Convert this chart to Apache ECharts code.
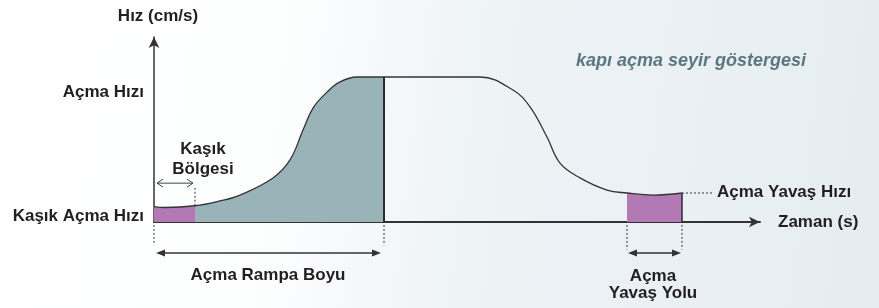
<!DOCTYPE html>
<html>
<head>
<meta charset="utf-8">
<script src="https://cdn.jsdelivr.net/npm/echarts@6/dist/echarts.min.js"></script>
</head>
<body style="margin:0">
<div id="main" style="width:879px;height:308px"></div>
<script>
// hız eğrisi: x = zaman (birim), y = hız (cm/s)
var curveX = [0, 1.1, 4.1, 6.5, 8.6, 11.9, 13.6, 14.9, 15.9, 17.3, 18.6, 20.3, 23, 32.6, 35.9, 37.6, 39.3, 40.6, 42.6, 45.3, 47.3, 49.9, 52.8];
var curveY = [5.3, 5.0, 5.6, 7.2, 9.3, 15.2, 21.4, 31.7, 39.3, 44.8, 48.3, 50, 50, 50, 45.5, 39.7, 29.3, 20.3, 15.2, 11.0, 10.0, 9.3, 10.0];

// bölge sınırları
var kasikEnd = 4.1;
var rampEnd = 23;
var slowStart = 47.3;
var slowEnd = 52.8;

// y ekseni yazıları
var yLabelValues = [2.1, 44.8];
var yLabelNames = ['Kaşık Açma Hızı', 'Açma Hızı'];

var textFont = 'Liberation Sans, Arial, sans-serif';
var textColor = '#231f20';

function pick(a, b) {
    var out = [];
    for (var i = 0; i < curveX.length; i++) {
        if (curveX[i] >= a && curveX[i] <= b) out.push([curveX[i], curveY[i]]);
    }
    return out;
}

function yAt(x) {
    return curveY[curveX.indexOf(x)];
}

var fullCurve = pick(0, slowEnd);

function renderNotes(params, api) {
    var kids = [];
    var dot = { stroke: '#333', lineWidth: 1, lineDash: [2, 2] };
    function seg(x1, y1, x2, y2, style) {
        var a = api.coord([x1, y1]), b = api.coord([x2, y2]);
        kids.push({ type: 'line', shape: { x1: a[0], y1: a[1], x2: b[0], y2: b[1] }, style: style });
    }
    // filled double arrow
    function dArrow(x1, x2, y) {
        var a = api.coord([x1, y]), b = api.coord([x2, y]);
        kids.push({ type: 'line', shape: { x1: a[0] + 4, y1: a[1], x2: b[0] - 4, y2: b[1] }, style: { stroke: '#333', lineWidth: 1.5 } });
        kids.push({ type: 'polygon', shape: { points: [[a[0], a[1]], [a[0] + 9, a[1] - 3.5], [a[0] + 9, a[1] + 3.5]] }, style: { fill: '#333' } });
        kids.push({ type: 'polygon', shape: { points: [[b[0], b[1]], [b[0] - 9, b[1] - 3.5], [b[0] - 9, b[1] + 3.5]] }, style: { fill: '#333' } });
    }
    // hollow double arrow
    function hArrow(x1, x2, y) {
        var a = api.coord([x1, y]), b = api.coord([x2, y]);
        var st = { stroke: '#444', lineWidth: 1, fill: null };
        kids.push({ type: 'line', shape: { x1: a[0], y1: a[1], x2: b[0], y2: b[1] }, style: st });
        kids.push({ type: 'polyline', shape: { points: [[a[0] + 6, a[1] - 4], [a[0], a[1]], [a[0] + 6, a[1] + 4]] }, style: st });
        kids.push({ type: 'polyline', shape: { points: [[b[0] - 6, b[1] - 4], [b[0], b[1]], [b[0] - 6, b[1] + 4]] }, style: st });
    }
    function txt(x, y, s, align, lh) {
        var p = api.coord([x, y]);
        kids.push({
            type: 'text', x: p[0], y: p[1],
            style: { text: s, fill: textColor, fontFamily: textFont, fontWeight: 'bold', fontSize: 17, align: align || 'center', verticalAlign: 'middle', lineHeight: lh || 20 }
        });
    }

    // bölge dikey çizgileri
    seg(rampEnd, 0, rampEnd, yAt(rampEnd), { stroke: '#2b2b2b', lineWidth: 2 });
    seg(slowEnd, 0, slowEnd, yAt(slowEnd), { stroke: '#2b2b2b', lineWidth: 1.5 });

    // noktalı kılavuzlar
    seg(kasikEnd, yAt(kasikEnd), kasikEnd, 12.4, dot);
    seg(0, -1, 0, -8, dot);
    seg(rampEnd, -1, rampEnd, -8, dot);
    seg(slowStart, -1, slowStart, -9.5, dot);
    seg(slowEnd, -1, slowEnd, -9.5, dot);
    seg(slowEnd, yAt(slowEnd), 55.8, yAt(slowEnd), dot);

    // oklar
    hArrow(0.3, 3.9, 13.4);
    dArrow(0.2, 22.7, -10.7);
    dArrow(47.4, 52.7, -10.7);

    // yazılar
    txt(4.9, 21.7, 'Kaşık\nBölgesi', 'center', 20);
    txt(11.4, -18.3, 'Açma Rampa Boyu', 'center');
    txt(56.3, 10.3, 'Açma Yavaş Hızı', 'left');
    txt(49.9, -21.7, 'Açma\nYavaş Yolu', 'center', 17);

    return { type: 'group', children: kids };
}

var myChart = echarts.init(document.getElementById('main'));
var option = {
    animation: false,
    backgroundColor: new echarts.graphic.LinearGradient(0, 0, 1, 0.35, [
        { offset: 0, color: '#ffffff' },
        { offset: 0.32, color: '#fdfefe' },
        { offset: 0.55, color: '#eef3f6' },
        { offset: 1, color: '#e6edf1' }
    ]),
    title: {
        text: 'kapı açma seyir göstergesi',
        left: 571,
        top: 47,
        textStyle: { color: '#5b7780', fontStyle: 'italic', fontWeight: 'bold', fontSize: 18, fontFamily: textFont }
    },
    grid: { left: 154, right: 119, top: 37, bottom: 86 },
    xAxis: {
        type: 'value',
        min: 0,
        max: 60.6,
        name: 'Zaman (s)',
        nameGap: 18,
        nameTextStyle: { color: textColor, fontWeight: 'bold', fontSize: 17, fontFamily: textFont },
        axisLine: { lineStyle: { color: '#333', width: 2 }, symbol: ['none', 'arrow'], symbolSize: [8, 11] },
        axisTick: { show: false },
        axisLabel: { show: false },
        splitLine: { show: false }
    },
    yAxis: {
        type: 'value',
        min: 0,
        max: 63.8,
        name: 'Hız (cm/s)',
        nameGap: 12,
        nameTextStyle: { color: textColor, fontWeight: 'bold', fontSize: 17, fontFamily: textFont, padding: [0, 0, 0, 8] },
        axisLine: { show: true, lineStyle: { color: '#333', width: 1.5 }, symbol: ['none', 'arrow'], symbolSize: [8, 11] },
        axisTick: { show: false },
        splitLine: { show: false },
        axisLabel: {
            customValues: yLabelValues,
            margin: 10,
            color: textColor,
            fontWeight: 'bold',
            fontSize: 17,
            fontFamily: textFont,
            formatter: function (v) {
                return yLabelNames[yLabelValues.indexOf(v)];
            }
        }
    },
    series: [
        {
            type: 'line', data: pick(0, kasikEnd), smooth: 0.4, symbol: 'none',
            lineStyle: { width: 0 }, areaStyle: { color: '#b279b5', opacity: 1 }
        },
        {
            type: 'line', data: pick(kasikEnd, rampEnd), smooth: 0.4, symbol: 'none',
            lineStyle: { width: 0 }, areaStyle: { color: '#9ab3b9', opacity: 1 }
        },
        {
            type: 'line', data: pick(slowStart, slowEnd), smooth: 0.4, symbol: 'none',
            lineStyle: { width: 0 }, areaStyle: { color: '#b279b5', opacity: 1 }
        },
        {
            type: 'line', data: fullCurve, smooth: 0.4, symbol: 'none',
            lineStyle: { color: '#333', width: 1.3 }, z: 3
        },
        {
            type: 'custom', data: [[0, 0]], renderItem: renderNotes, silent: true, z: 4, clip: false
        }
    ]
};
myChart.setOption(option);
</script>
</body>
</html>
